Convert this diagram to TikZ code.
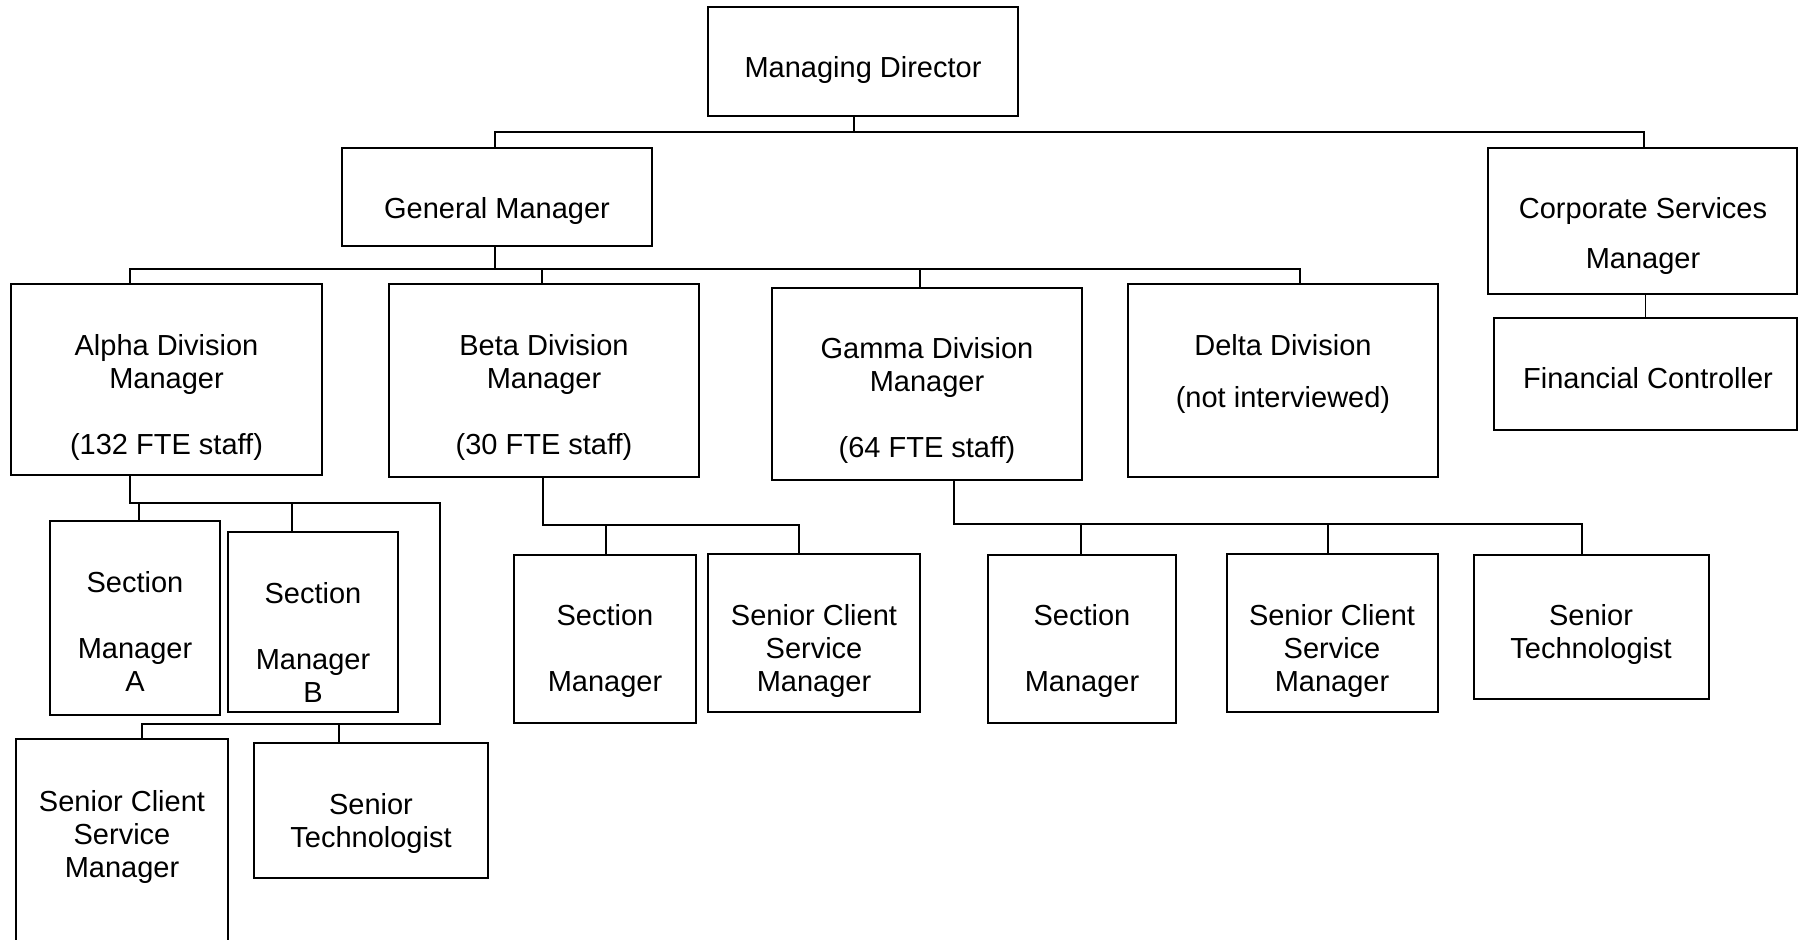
\documentclass[tikz,border=0pt]{standalone}
\usepackage{fontspec}
\setmainfont{Liberation Sans}
\usetikzlibrary{fit}
\newcommand\orgfont{\fontsize{14.5}{16.5}\selectfont}
\newcommand\orgline[1]{\strut#1}
\begin{document}
\begin{tikzpicture}[x=0.5pt,y=-0.5pt,
  box/.style={draw=black, line width=0.65pt, inner sep=0pt, rectangle},
  lbl/.style={inner sep=0pt, align=center, font=\orgfont},
  link/.style={draw=black, line width=0.65pt}]
\clip (0,0) rectangle (1798,939);
\fill[white] (0,0) rectangle (1798,939);

% ---- boxes ----
\node[box, fit={(708,7) (1018,116)}]    (md)    {};
\node[box, fit={(342,148) (652,246)}]   (gm)    {};
\node[box, fit={(1488,148) (1797,294)}] (csm)   {};
\node[box, fit={(1494,318) (1797,430)}] (fc)    {};
\node[box, fit={(11,284) (322,475)}]    (alpha) {};
\node[box, fit={(389,284) (699,477)}]   (beta)  {};
\node[box, fit={(772,288) (1082,480)}]  (gamma) {};
\node[box, fit={(1128,284) (1438,477)}] (delta) {};
\node[box, fit={(50,521) (220,715)}]    (sma)   {};
\node[box, fit={(228,532) (398,712)}]   (smb)   {};
\node[box, fit={(16,739) (228,960)}]    (ascsm) {};
\node[box, fit={(254,743) (488,878)}]   (ast)   {};
\node[box, fit={(514,555) (696,723)}]   (bsm)   {};
\node[box, fit={(708,554) (920,712)}]   (bscsm) {};
\node[box, fit={(988,555) (1176,723)}]  (gsm)   {};
\node[box, fit={(1227,554) (1438,712)}] (gscsm) {};
\node[box, fit={(1474,555) (1709,699)}] (gst)   {};

% ---- labels ----
\node[lbl] (md-t)    at (863,71)    {\orgline{Managing Director}};
\node[lbl] (gm-t)    at (497,212)   {\orgline{General Manager}};
\node[lbl] (csm-t)   at (1643,237)  {\orgline{Corporate Services}\\[8.5pt]\orgline{Manager}};
\node[lbl] (fc-t)    at (1648,382)  {\orgline{Financial Controller}};
\node[lbl] (alpha-t) at (166.5,398.5) {\orgline{Alpha Division}\\\orgline{Manager}\\[16.5pt]\orgline{(132 FTE staff)}};
\node[lbl] (beta-t)  at (544,398.5) {\orgline{Beta Division}\\\orgline{Manager}\\[16.5pt]\orgline{(30 FTE staff)}};
\node[lbl] (gamma-t) at (927,401.5) {\orgline{Gamma Division}\\\orgline{Manager}\\[16.5pt]\orgline{(64 FTE staff)}};
\node[lbl] (delta-t) at (1283,375)  {\orgline{Delta Division}\\[9.5pt]\orgline{(not interviewed)}};
\node[lbl] (sma-t)   at (135,635.5) {\orgline{Section}\\[16.5pt]\orgline{Manager}\\\orgline{A}};
\node[lbl] (smb-t)   at (313,646.5) {\orgline{Section}\\[16.5pt]\orgline{Manager}\\\orgline{B}};
\node[lbl] (ascsm-t) at (122,837.5) {\orgline{Senior Client}\\\orgline{Service}\\\orgline{Manager}};
\node[lbl] (ast-t)   at (371,824)   {\orgline{Senior}\\\orgline{Technologist}};
\node[lbl] (bsm-t)   at (605,652)   {\orgline{Section}\\[16.5pt]\orgline{Manager}};
\node[lbl] (bscsm-t) at (814,652)   {\orgline{Senior Client}\\\orgline{Service}\\\orgline{Manager}};
\node[lbl] (gsm-t)   at (1082,652)  {\orgline{Section}\\[16.5pt]\orgline{Manager}};
\node[lbl] (gscsm-t) at (1332,652)  {\orgline{Senior Client}\\\orgline{Service}\\\orgline{Manager}};
\node[lbl] (gst-t)   at (1591,635.5){\orgline{Senior}\\\orgline{Technologist}};

% ---- bus junctions ----
\coordinate (j-md)    at (854,132);
\coordinate (j-gm)    at (495,132);
\coordinate (j-csm)   at (1644,132);
\coordinate (j-gm2)   at (495,269);
\coordinate (j-a)     at (130,269);
\coordinate (j-b)     at (542,269);
\coordinate (j-g)     at (920,269);
\coordinate (j-d)     at (1300,269);
\coordinate (j-a2)    at (130,503);
\coordinate (j-sma)   at (139,503);
\coordinate (j-smb)   at (292,503);
\coordinate (a-turn1) at (440,503);
\coordinate (a-turn2) at (440,724);
\coordinate (j-ascsm) at (142,724);
\coordinate (j-ast)   at (339,724);
\coordinate (j-b2)    at (543,525);
\coordinate (j-bsm)   at (606,525);
\coordinate (j-bscsm) at (799,525);
\coordinate (j-g2)    at (954,524);
\coordinate (j-gsm)   at (1081,524);
\coordinate (j-gscsm) at (1328,524);
\coordinate (j-gst)   at (1582,524);

% ---- connectors ----
\draw[link] (md.south -| j-md) -- (j-md);
\draw[link] (gm.north -| j-gm) -- (j-gm) -- (j-csm) -- (csm.north -| j-csm);
\draw[link] (csm.south -| fc.north) -- (fc.north);

\draw[link] (gm.south -| j-gm2) -- (j-gm2);
\draw[link] (alpha.north -| j-a) -- (j-a) -- (j-d) -- (delta.north -| j-d);
\draw[link] (j-b) -- (beta.north -| j-b);
\draw[link] (j-g) -- (gamma.north -| j-g);

\draw[link] (alpha.south -| j-a2) -- (j-a2) -- (a-turn1) -- (a-turn2) -- (j-ascsm) -- (ascsm.north -| j-ascsm);
\draw[link] (j-sma) -- (sma.north -| j-sma);
\draw[link] (j-smb) -- (smb.north -| j-smb);
\draw[link] (j-ast) -- (ast.north -| j-ast);

\draw[link] (beta.south -| j-b2) -- (j-b2) -- (j-bscsm) -- (bscsm.north -| j-bscsm);
\draw[link] (j-bsm) -- (bsm.north -| j-bsm);

\draw[link] (gamma.south -| j-g2) -- (j-g2) -- (j-gst) -- (gst.north -| j-gst);
\draw[link] (j-gsm) -- (gsm.north -| j-gsm);
\draw[link] (j-gscsm) -- (gscsm.north -| j-gscsm);
\end{tikzpicture}
\end{document}
